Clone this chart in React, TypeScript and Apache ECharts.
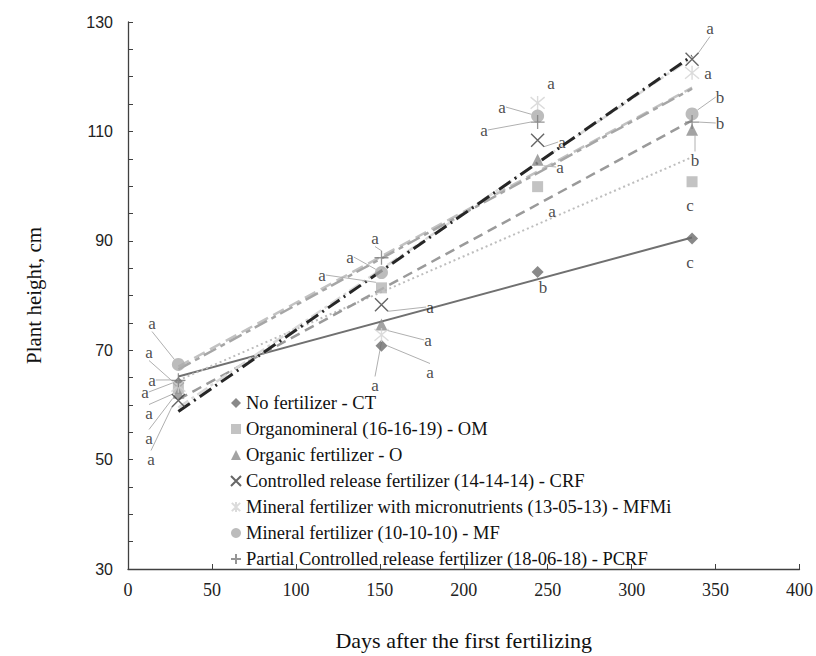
import React, { useEffect, useRef } from "react";
import * as echarts from "echarts";

// ---- data ----
const days = [30, 151, 244, 336];
const seriesNames = [
  "No fertilizer - CT",
  "Organomineral (16-16-19) - OM",
  "Organic fertilizer - O",
  "Controlled release fertilizer (14-14-14) - CRF",
  "Mineral fertilizer with micronutrients (13-05-13) - MFMi",
  "Mineral fertilizer (10-10-10) - MF",
  "Partial Controlled release fertilizer (18-06-18) - PCRF",
];
const ctValues = [64, 70.8, 84.3, 90.4];
const omValues = [63, 81.4, 99.9, 100.8];
const oValues = [62.2, 74.7, 104.8, 110.3];
const crfValues = [60.8, 78.3, 108.4, 123.2];
const mfmiValues = [63.5, 72.8, 115.2, 120.7];
const mfValues = [67.4, 84.2, 112.8, 113.2];
const pcrfValues = [64.5, 86.9, 111.7, 111.7];

const ctLetters = ["a", "a", "b", "c"];
const omLetters = ["a", "a", "a", "c"];
const oLetters = ["a", "a", "a", "b"];
const crfLetters = ["a", "a", "a", "a"];
const mfmiLetters = ["a", "a", "a", "a"];
const mfLetters = ["a", "a", "a", "b"];
const pcrfLetters = ["a", "a", "a", "b"];

// trend lines (start / end values)
const trendDays = [30, 336];
const ctTrend = [65.2, 90.6];
const omTrend = [64.5, 105.3];
const oTrend = [61, 112];
const crfTrend = [58.8, 123.8];
const mfmiTrend = [59.5, 123.5];
const mfTrend = [67, 118];
const pcrfTrend = [66.5, 117.8];

const xTicks = [0, 400, 50];
const yTicks = [30, 130, 20];

// ---- layout / style (not data) ----
// label positions in chart pixels [x, y, showLeader]
const ctLabelPos: [number, number, boolean][] = [[145, 392, true], [430, 372, true], [543, 287, false], [690, 262, false]];
const omLabelPos: [number, number, boolean][] = [[149, 413, true], [322, 275, true], [552, 211, false], [690, 205, false]];
const oLabelPos: [number, number, boolean][] = [[149, 438, true], [428, 340, true], [560, 167, true], [695, 160, true]];
const crfLabelPos: [number, number, boolean][] = [[151, 459, true], [430, 307, true], [562, 142, true], [710, 28, true]];
const mfmiLabelPos: [number, number, boolean][] = [[152, 380, true], [375, 385, true], [551, 83, false], [708, 73, false]];
const mfLabelPos: [number, number, boolean][] = [[152, 323, true], [350, 257, true], [502, 107, true], [720, 97, true]];
const pcrfLabelPos: [number, number, boolean][] = [[149, 352, true], [375, 238, true], [484, 130, true], [720, 123, true]];

const X_PATH = "path://M0,0L10,10M10,0L0,10";
const STAR_PATH = "path://M0,0L10,10M10,0L0,10M5,-1L5,11";
const PLUS_PATH = "path://M6,0L6,12M0,6L12,6";

const SERIF = "Liberation Serif";
const SANS = "Liberation Sans";

type Cfg = {
  values: number[];
  letters: string[];
  pos: [number, number, boolean][];
  trend: number[];
  symbol: string;
  size: number;
  itemStyle: any;
  lineColor: string;
  lineWidth: number;
  lineType: any;
};

const configs: Cfg[] = [
  { values: ctValues, letters: ctLetters, pos: ctLabelPos, trend: ctTrend, symbol: "diamond", size: 12,
    itemStyle: { color: "#6b6b6b" }, lineColor: "#707070", lineWidth: 2, lineType: "solid" },
  { values: omValues, letters: omLetters, pos: omLabelPos, trend: omTrend, symbol: "rect", size: 11,
    itemStyle: { color: "#b4b4b4" }, lineColor: "#bdbdbd", lineWidth: 2, lineType: [2, 3] },
  { values: oValues, letters: oLetters, pos: oLabelPos, trend: oTrend, symbol: "triangle", size: 12,
    itemStyle: { color: "#8c8c8c" }, lineColor: "#9a9a9a", lineWidth: 2.5, lineType: [10, 6] },
  { values: crfValues, letters: crfLetters, pos: crfLabelPos, trend: crfTrend, symbol: X_PATH, size: 13,
    itemStyle: { color: "rgba(0,0,0,0)", borderColor: "#404040", borderWidth: 1.4 }, lineColor: "#262626", lineWidth: 3, lineType: [14, 5, 2, 5] },
  { values: mfmiValues, letters: mfmiLetters, pos: mfmiLabelPos, trend: mfmiTrend, symbol: STAR_PATH, size: 14,
    itemStyle: { color: "rgba(0,0,0,0)", borderColor: "#d2d2d2", borderWidth: 1.4 }, lineColor: "#d9d9d9", lineWidth: 2.5, lineType: [12, 4, 3, 4] },
  { values: mfValues, letters: mfLetters, pos: mfLabelPos, trend: mfTrend, symbol: "circle", size: 13,
    itemStyle: { color: "#ababab" }, lineColor: "#c2c2c2", lineWidth: 2.5, lineType: [12, 6] },
  { values: pcrfValues, letters: pcrfLetters, pos: pcrfLabelPos, trend: pcrfTrend, symbol: PLUS_PATH, size: 14,
    itemStyle: { color: "rgba(0,0,0,0)", borderColor: "#7a7a7a", borderWidth: 1.3 }, lineColor: "#a6a6a6", lineWidth: 2.5, lineType: [14, 5, 5, 5] },
];

export default function App() {
  const ref = useRef<HTMLDivElement>(null);
  useEffect(() => {
    if (!ref.current) return;
    const chart = echarts.init(ref.current, undefined, { renderer: "svg" });

    const lineSeries = configs.map((c, i) => ({
      name: seriesNames[i] + " trend",
      type: "line",
      data: trendDays.map((d, k) => [d, c.trend[k]]),
      symbol: "none",
      silent: true,
      z: 1 + (i === 3 ? 1 : 0),
      lineStyle: { color: c.lineColor, width: c.lineWidth, type: c.lineType },
    }));

    const scatterSeries = configs.map((c, i) => ({
      name: seriesNames[i],
      type: "scatter",
      symbol: c.symbol,
      symbolSize: c.size,
      itemStyle: c.itemStyle,
      z: 3,
      data: days.map((d, k) => ({
        value: [d, c.values[k]],
        label: { formatter: c.letters[k], color: "#1a1a1a" },
        labelLine: { show: c.pos[k][2] },
      })),
      label: {
        show: true,
        fontFamily: SERIF,
        fontSize: 17,
        color: "#1a1a1a",
      },
      labelLine: { show: true, lineStyle: { color: "#b0b0b0", width: 1 } },
      labelLayout: (p: any) => {
        const pp = c.pos[p.dataIndex];
        return { x: pp[0], y: pp[1], align: "center", verticalAlign: "middle" };
      },
    }));

    chart.setOption({
      animation: false,
      grid: { left: 128, right: 15, top: 22, bottom: 86, containLabel: false },
      xAxis: {
        type: "value",
        min: xTicks[0],
        max: xTicks[1],
        interval: xTicks[2],
        name: "Days after the first fertilizing",
        nameLocation: "middle",
        nameGap: 60,
        nameTextStyle: { fontFamily: SERIF, fontSize: 22, color: "#111" },
        axisLine: { show: true, lineStyle: { color: "#404040", width: 1.3 } },
        axisTick: { show: true, inside: true, length: 5, lineStyle: { color: "#404040" } },
        axisLabel: { fontFamily: SERIF, fontSize: 18, color: "#222", margin: 12 },
        splitLine: { show: false },
      },
      yAxis: {
        type: "value",
        min: yTicks[0],
        max: yTicks[1],
        interval: yTicks[2],
        name: "Plant height, cm",
        nameLocation: "middle",
        nameGap: 84,
        nameTextStyle: { fontFamily: SERIF, fontSize: 21, color: "#111" },
        axisLine: { show: true, lineStyle: { color: "#404040", width: 1.3 } },
        axisTick: { show: true, inside: true, length: 5, lineStyle: { color: "#404040" } },
        minorTick: { show: true, splitNumber: 4, length: 5, lineStyle: { color: "#404040" } },
        axisLabel: { fontFamily: SANS, fontSize: 16, color: "#222", margin: 15 },
        splitLine: { show: false },
        minorSplitLine: { show: false },
      },
      legend: {
        data: seriesNames,
        orient: "vertical",
        left: 225,
        top: 388,
        itemWidth: 10,
        itemHeight: 10,
        itemGap: 6,
        selectedMode: false,
        textStyle: { fontFamily: SERIF, fontSize: 18.5, color: "#111", lineHeight: 20 },
      },
      series: [...lineSeries, ...scatterSeries],
    });
    return () => chart.dispose();
  }, []);
  return (
    <div
      ref={ref}
      style={{ position: "fixed", left: 0, top: 0, width: 816, height: 656, background: "#fff" }}
    />
  );
}
